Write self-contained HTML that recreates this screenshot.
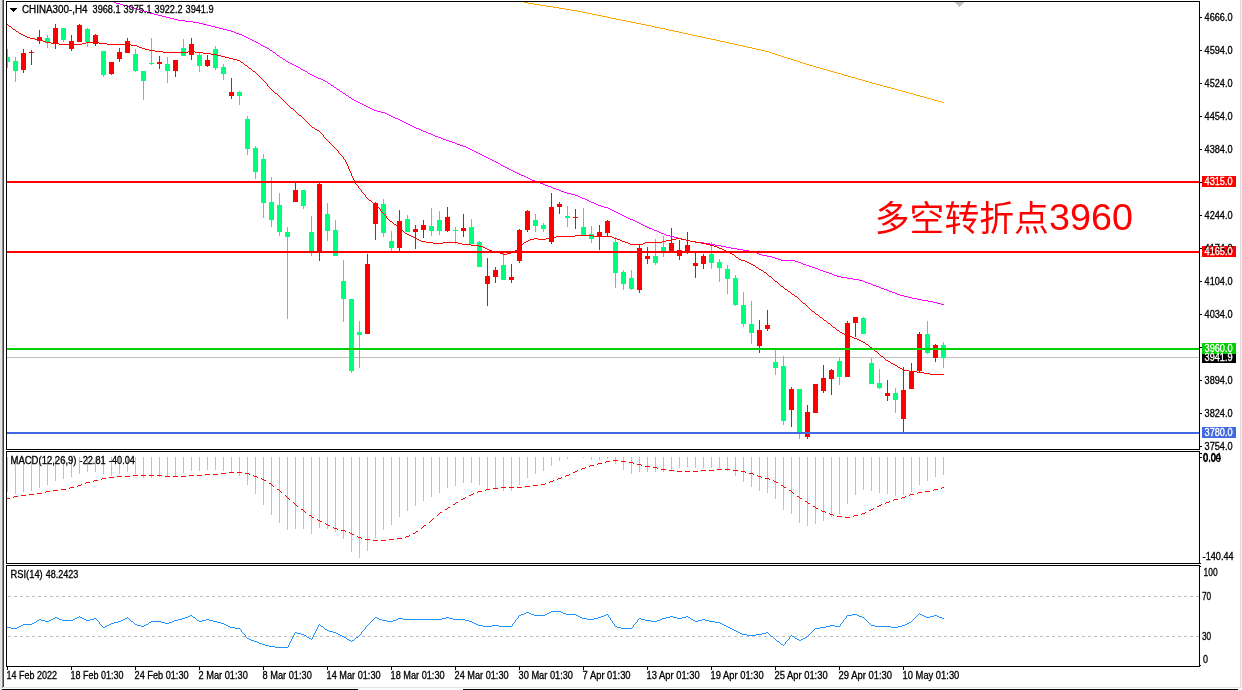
<!DOCTYPE html>
<html><head><meta charset="utf-8"><title>CHINA300-,H4</title>
<style>
html,body{margin:0;padding:0;background:#fff;}
body{width:1242px;height:690px;overflow:hidden;position:relative;font-family:"Liberation Sans","Noto Sans CJK SC",sans-serif;}
svg{position:absolute;left:0;top:0;display:block;}
svg text{font-family:"Liberation Sans","Noto Sans CJK SC",sans-serif;stroke-width:0.3px;}
#note{position:absolute;left:0;top:0;color:#ff0000;white-space:nowrap;font-family:"Liberation Sans","Noto Sans CJK SC",sans-serif;}
#note span{position:absolute;line-height:44px;height:44px;}
#note .cj{left:874.8px;top:196.8px;font-size:34.8px;}
#note .dg{left:1049px;top:195.2px;font-size:37.7px;}
</style></head><body>
<svg width="1242" height="690" viewBox="0 0 1242 690">
<g shape-rendering="crispEdges">
<rect x="0" y="0" width="2" height="690" fill="#e6e6e6"/>
<rect x="2" y="0" width="1" height="688" fill="#8c8c8c"/>
<rect x="3" y="0" width="1" height="687" fill="#404040"/>
<rect x="1240" y="0" width="1" height="688" fill="#dcdcdc"/>
<rect x="1241" y="0" width="1" height="688" fill="#f0f0f0"/>
<rect x="4" y="687" width="1237" height="1" fill="#e4e4e4"/>
<rect x="2" y="689" width="356" height="1" fill="#000"/>
<rect x="463" y="689" width="775" height="1" fill="#000"/>
<rect x="7" y="357" width="1192" height="1" fill="#c0c0c0"/>
<rect x="7" y="49" width="1" height="19" fill="#00ff7f"/>
<rect x="7" y="57" width="3" height="5" fill="#00ff7f"/>
<rect x="15" y="57" width="1" height="25" fill="#00ff7f"/>
<rect x="13" y="61" width="5" height="10" fill="#00ff7f"/>
<rect x="23" y="49" width="1" height="24" fill="#ff0000"/>
<rect x="21" y="53" width="5" height="17" fill="#ff0000"/>
<rect x="31" y="50" width="1" height="15" fill="#ff0000"/>
<rect x="29" y="52" width="5" height="1" fill="#ff0000"/>
<rect x="39" y="30" width="1" height="14" fill="#ff0000"/>
<rect x="37" y="37" width="5" height="4" fill="#ff0000"/>
<rect x="47" y="35" width="1" height="13" fill="#00ff7f"/>
<rect x="45" y="38" width="5" height="5" fill="#00ff7f"/>
<rect x="55" y="24" width="1" height="25" fill="#ff0000"/>
<rect x="53" y="28" width="5" height="16" fill="#ff0000"/>
<rect x="63" y="28" width="1" height="14" fill="#00ff7f"/>
<rect x="61" y="28" width="5" height="12" fill="#00ff7f"/>
<rect x="71" y="35" width="1" height="16" fill="#ff0000"/>
<rect x="69" y="41" width="5" height="8" fill="#ff0000"/>
<rect x="79" y="24" width="1" height="18" fill="#ff0000"/>
<rect x="77" y="25" width="5" height="17" fill="#ff0000"/>
<rect x="87" y="28" width="1" height="19" fill="#00ff7f"/>
<rect x="85" y="29" width="5" height="13" fill="#00ff7f"/>
<rect x="95" y="34" width="1" height="12" fill="#ff0000"/>
<rect x="93" y="35" width="5" height="9" fill="#ff0000"/>
<rect x="103" y="51" width="1" height="26" fill="#00ff7f"/>
<rect x="101" y="51" width="5" height="24" fill="#00ff7f"/>
<rect x="111" y="62" width="1" height="13" fill="#ff0000"/>
<rect x="109" y="62" width="5" height="12" fill="#ff0000"/>
<rect x="119" y="48" width="1" height="14" fill="#ff0000"/>
<rect x="117" y="52" width="5" height="7" fill="#ff0000"/>
<rect x="127" y="38" width="1" height="15" fill="#ff0000"/>
<rect x="125" y="41" width="5" height="12" fill="#ff0000"/>
<rect x="135" y="49" width="1" height="23" fill="#00ff7f"/>
<rect x="133" y="54" width="5" height="17" fill="#00ff7f"/>
<rect x="143" y="71" width="1" height="29" fill="#00ff7f"/>
<rect x="141" y="71" width="5" height="10" fill="#00ff7f"/>
<rect x="151" y="38" width="1" height="27" fill="#00ff7f"/>
<rect x="149" y="63" width="5" height="1" fill="#00ff7f"/>
<rect x="159" y="56" width="1" height="13" fill="#ff0000"/>
<rect x="157" y="62" width="5" height="2" fill="#ff0000"/>
<rect x="167" y="57" width="1" height="26" fill="#00ff7f"/>
<rect x="165" y="64" width="5" height="7" fill="#00ff7f"/>
<rect x="175" y="60" width="1" height="17" fill="#ff0000"/>
<rect x="173" y="60" width="5" height="11" fill="#ff0000"/>
<rect x="183" y="39" width="1" height="17" fill="#00ff7f"/>
<rect x="181" y="48" width="5" height="8" fill="#00ff7f"/>
<rect x="191" y="38" width="1" height="22" fill="#ff0000"/>
<rect x="189" y="44" width="5" height="11" fill="#ff0000"/>
<rect x="199" y="53" width="1" height="19" fill="#00ff7f"/>
<rect x="197" y="55" width="5" height="11" fill="#00ff7f"/>
<rect x="207" y="55" width="1" height="12" fill="#ff0000"/>
<rect x="205" y="60" width="5" height="6" fill="#ff0000"/>
<rect x="215" y="46" width="1" height="24" fill="#00ff7f"/>
<rect x="213" y="49" width="5" height="19" fill="#00ff7f"/>
<rect x="223" y="64" width="1" height="16" fill="#00ff7f"/>
<rect x="221" y="67" width="5" height="7" fill="#00ff7f"/>
<rect x="231" y="78" width="1" height="21" fill="#ff0000"/>
<rect x="229" y="92" width="5" height="4" fill="#ff0000"/>
<rect x="239" y="91" width="1" height="14" fill="#00ff7f"/>
<rect x="237" y="92" width="5" height="4" fill="#00ff7f"/>
<rect x="247" y="116" width="1" height="39" fill="#00ff7f"/>
<rect x="245" y="119" width="5" height="30" fill="#00ff7f"/>
<rect x="255" y="146" width="1" height="33" fill="#00ff7f"/>
<rect x="253" y="148" width="5" height="24" fill="#00ff7f"/>
<rect x="263" y="154" width="1" height="64" fill="#00ff7f"/>
<rect x="261" y="159" width="5" height="44" fill="#00ff7f"/>
<rect x="271" y="177" width="1" height="50" fill="#00ff7f"/>
<rect x="269" y="202" width="5" height="18" fill="#00ff7f"/>
<rect x="279" y="193" width="1" height="43" fill="#00ff7f"/>
<rect x="277" y="205" width="5" height="27" fill="#00ff7f"/>
<rect x="287" y="227" width="1" height="92" fill="#00ff7f"/>
<rect x="285" y="232" width="5" height="5" fill="#00ff7f"/>
<rect x="295" y="183" width="1" height="19" fill="#ff0000"/>
<rect x="293" y="190" width="5" height="12" fill="#ff0000"/>
<rect x="303" y="190" width="1" height="19" fill="#00ff7f"/>
<rect x="301" y="190" width="5" height="16" fill="#00ff7f"/>
<rect x="311" y="216" width="1" height="40" fill="#00ff7f"/>
<rect x="309" y="232" width="5" height="20" fill="#00ff7f"/>
<rect x="319" y="183" width="1" height="78" fill="#ff0000"/>
<rect x="317" y="184" width="5" height="69" fill="#ff0000"/>
<rect x="327" y="203" width="1" height="38" fill="#00ff7f"/>
<rect x="325" y="214" width="5" height="17" fill="#00ff7f"/>
<rect x="335" y="220" width="1" height="36" fill="#00ff7f"/>
<rect x="333" y="230" width="5" height="26" fill="#00ff7f"/>
<rect x="343" y="260" width="1" height="62" fill="#00ff7f"/>
<rect x="341" y="281" width="5" height="18" fill="#00ff7f"/>
<rect x="351" y="299" width="1" height="74" fill="#00ff7f"/>
<rect x="349" y="299" width="5" height="72" fill="#00ff7f"/>
<rect x="359" y="321" width="1" height="47" fill="#00ff7f"/>
<rect x="357" y="332" width="5" height="3" fill="#00ff7f"/>
<rect x="367" y="254" width="1" height="80" fill="#ff0000"/>
<rect x="365" y="264" width="5" height="70" fill="#ff0000"/>
<rect x="375" y="202" width="1" height="38" fill="#ff0000"/>
<rect x="373" y="203" width="5" height="21" fill="#ff0000"/>
<rect x="383" y="199" width="1" height="38" fill="#00ff7f"/>
<rect x="381" y="204" width="5" height="29" fill="#00ff7f"/>
<rect x="391" y="231" width="1" height="20" fill="#00ff7f"/>
<rect x="389" y="241" width="5" height="7" fill="#00ff7f"/>
<rect x="399" y="210" width="1" height="41" fill="#ff0000"/>
<rect x="397" y="221" width="5" height="27" fill="#ff0000"/>
<rect x="407" y="215" width="1" height="17" fill="#00ff7f"/>
<rect x="405" y="219" width="5" height="13" fill="#00ff7f"/>
<rect x="415" y="225" width="1" height="24" fill="#ff0000"/>
<rect x="413" y="229" width="5" height="3" fill="#ff0000"/>
<rect x="423" y="220" width="1" height="18" fill="#ff0000"/>
<rect x="421" y="225" width="5" height="5" fill="#ff0000"/>
<rect x="431" y="208" width="1" height="28" fill="#00ff7f"/>
<rect x="429" y="226" width="5" height="5" fill="#00ff7f"/>
<rect x="439" y="211" width="1" height="24" fill="#00ff7f"/>
<rect x="437" y="220" width="5" height="11" fill="#00ff7f"/>
<rect x="447" y="207" width="1" height="25" fill="#ff0000"/>
<rect x="445" y="217" width="5" height="14" fill="#ff0000"/>
<rect x="455" y="227" width="1" height="17" fill="#00ff7f"/>
<rect x="453" y="230" width="5" height="1" fill="#00ff7f"/>
<rect x="463" y="214" width="1" height="23" fill="#ff0000"/>
<rect x="461" y="228" width="5" height="3" fill="#ff0000"/>
<rect x="471" y="219" width="1" height="25" fill="#00ff7f"/>
<rect x="469" y="227" width="5" height="17" fill="#00ff7f"/>
<rect x="479" y="241" width="1" height="26" fill="#00ff7f"/>
<rect x="477" y="242" width="5" height="25" fill="#00ff7f"/>
<rect x="487" y="258" width="1" height="48" fill="#ff0000"/>
<rect x="485" y="276" width="5" height="8" fill="#ff0000"/>
<rect x="495" y="267" width="1" height="16" fill="#ff0000"/>
<rect x="493" y="270" width="5" height="7" fill="#ff0000"/>
<rect x="503" y="253" width="1" height="27" fill="#00ff7f"/>
<rect x="501" y="265" width="5" height="15" fill="#00ff7f"/>
<rect x="511" y="264" width="1" height="19" fill="#ff0000"/>
<rect x="509" y="277" width="5" height="3" fill="#ff0000"/>
<rect x="519" y="229" width="1" height="34" fill="#ff0000"/>
<rect x="517" y="230" width="5" height="31" fill="#ff0000"/>
<rect x="527" y="210" width="1" height="22" fill="#ff0000"/>
<rect x="525" y="211" width="5" height="19" fill="#ff0000"/>
<rect x="535" y="214" width="1" height="18" fill="#00ff7f"/>
<rect x="533" y="220" width="5" height="6" fill="#00ff7f"/>
<rect x="543" y="223" width="1" height="9" fill="#00ff7f"/>
<rect x="541" y="225" width="5" height="4" fill="#00ff7f"/>
<rect x="551" y="193" width="1" height="51" fill="#ff0000"/>
<rect x="549" y="207" width="5" height="35" fill="#ff0000"/>
<rect x="559" y="202" width="1" height="12" fill="#ff0000"/>
<rect x="557" y="204" width="5" height="3" fill="#ff0000"/>
<rect x="567" y="206" width="1" height="21" fill="#00ff7f"/>
<rect x="565" y="216" width="5" height="2" fill="#00ff7f"/>
<rect x="575" y="209" width="1" height="20" fill="#ff0000"/>
<rect x="573" y="217" width="5" height="1" fill="#ff0000"/>
<rect x="583" y="208" width="1" height="27" fill="#00ff7f"/>
<rect x="581" y="227" width="5" height="8" fill="#00ff7f"/>
<rect x="591" y="226" width="1" height="17" fill="#00ff7f"/>
<rect x="589" y="234" width="5" height="5" fill="#00ff7f"/>
<rect x="599" y="225" width="1" height="25" fill="#ff0000"/>
<rect x="597" y="232" width="5" height="5" fill="#ff0000"/>
<rect x="607" y="220" width="1" height="16" fill="#ff0000"/>
<rect x="605" y="221" width="5" height="12" fill="#ff0000"/>
<rect x="615" y="237" width="1" height="51" fill="#00ff7f"/>
<rect x="613" y="242" width="5" height="31" fill="#00ff7f"/>
<rect x="623" y="270" width="1" height="20" fill="#00ff7f"/>
<rect x="621" y="272" width="5" height="12" fill="#00ff7f"/>
<rect x="631" y="270" width="1" height="20" fill="#00ff7f"/>
<rect x="629" y="278" width="5" height="11" fill="#00ff7f"/>
<rect x="639" y="245" width="1" height="48" fill="#ff0000"/>
<rect x="637" y="248" width="5" height="42" fill="#ff0000"/>
<rect x="647" y="247" width="1" height="17" fill="#ff0000"/>
<rect x="645" y="256" width="5" height="3" fill="#ff0000"/>
<rect x="655" y="239" width="1" height="26" fill="#00ff7f"/>
<rect x="653" y="256" width="5" height="7" fill="#00ff7f"/>
<rect x="663" y="236" width="1" height="21" fill="#00ff7f"/>
<rect x="661" y="247" width="5" height="5" fill="#00ff7f"/>
<rect x="671" y="228" width="1" height="25" fill="#ff0000"/>
<rect x="669" y="243" width="5" height="9" fill="#ff0000"/>
<rect x="679" y="240" width="1" height="20" fill="#ff0000"/>
<rect x="677" y="250" width="5" height="6" fill="#ff0000"/>
<rect x="687" y="232" width="1" height="22" fill="#ff0000"/>
<rect x="685" y="245" width="5" height="8" fill="#ff0000"/>
<rect x="695" y="253" width="1" height="25" fill="#ff0000"/>
<rect x="693" y="263" width="5" height="3" fill="#ff0000"/>
<rect x="703" y="254" width="1" height="15" fill="#ff0000"/>
<rect x="701" y="256" width="5" height="8" fill="#ff0000"/>
<rect x="711" y="242" width="1" height="27" fill="#00ff7f"/>
<rect x="709" y="254" width="5" height="9" fill="#00ff7f"/>
<rect x="719" y="259" width="1" height="23" fill="#00ff7f"/>
<rect x="717" y="262" width="5" height="6" fill="#00ff7f"/>
<rect x="727" y="265" width="1" height="29" fill="#00ff7f"/>
<rect x="725" y="269" width="5" height="10" fill="#00ff7f"/>
<rect x="735" y="275" width="1" height="31" fill="#00ff7f"/>
<rect x="733" y="278" width="5" height="27" fill="#00ff7f"/>
<rect x="743" y="292" width="1" height="35" fill="#00ff7f"/>
<rect x="741" y="305" width="5" height="19" fill="#00ff7f"/>
<rect x="751" y="301" width="1" height="43" fill="#00ff7f"/>
<rect x="749" y="324" width="5" height="9" fill="#00ff7f"/>
<rect x="759" y="320" width="1" height="33" fill="#ff0000"/>
<rect x="757" y="330" width="5" height="16" fill="#ff0000"/>
<rect x="767" y="310" width="1" height="21" fill="#ff0000"/>
<rect x="765" y="325" width="5" height="4" fill="#ff0000"/>
<rect x="775" y="350" width="1" height="25" fill="#00ff7f"/>
<rect x="773" y="362" width="5" height="6" fill="#00ff7f"/>
<rect x="783" y="356" width="1" height="69" fill="#00ff7f"/>
<rect x="781" y="366" width="5" height="55" fill="#00ff7f"/>
<rect x="791" y="387" width="1" height="40" fill="#ff0000"/>
<rect x="789" y="389" width="5" height="21" fill="#ff0000"/>
<rect x="799" y="389" width="1" height="50" fill="#00ff7f"/>
<rect x="797" y="389" width="5" height="45" fill="#00ff7f"/>
<rect x="807" y="405" width="1" height="34" fill="#ff0000"/>
<rect x="805" y="412" width="5" height="25" fill="#ff0000"/>
<rect x="815" y="384" width="1" height="29" fill="#ff0000"/>
<rect x="813" y="384" width="5" height="29" fill="#ff0000"/>
<rect x="823" y="365" width="1" height="28" fill="#ff0000"/>
<rect x="821" y="378" width="5" height="13" fill="#ff0000"/>
<rect x="831" y="369" width="1" height="26" fill="#ff0000"/>
<rect x="829" y="370" width="5" height="9" fill="#ff0000"/>
<rect x="839" y="357" width="1" height="28" fill="#00ff7f"/>
<rect x="837" y="361" width="5" height="16" fill="#00ff7f"/>
<rect x="847" y="321" width="1" height="56" fill="#ff0000"/>
<rect x="845" y="323" width="5" height="54" fill="#ff0000"/>
<rect x="855" y="317" width="1" height="20" fill="#ff0000"/>
<rect x="853" y="317" width="5" height="6" fill="#ff0000"/>
<rect x="863" y="317" width="1" height="17" fill="#00ff7f"/>
<rect x="861" y="318" width="5" height="16" fill="#00ff7f"/>
<rect x="871" y="358" width="1" height="26" fill="#00ff7f"/>
<rect x="869" y="363" width="5" height="21" fill="#00ff7f"/>
<rect x="879" y="369" width="1" height="20" fill="#00ff7f"/>
<rect x="877" y="383" width="5" height="5" fill="#00ff7f"/>
<rect x="887" y="380" width="1" height="21" fill="#ff0000"/>
<rect x="885" y="393" width="5" height="3" fill="#ff0000"/>
<rect x="895" y="388" width="1" height="25" fill="#00ff7f"/>
<rect x="893" y="393" width="5" height="7" fill="#00ff7f"/>
<rect x="903" y="367" width="1" height="65" fill="#ff0000"/>
<rect x="901" y="390" width="5" height="29" fill="#ff0000"/>
<rect x="911" y="363" width="1" height="26" fill="#ff0000"/>
<rect x="909" y="371" width="5" height="18" fill="#ff0000"/>
<rect x="919" y="332" width="1" height="40" fill="#ff0000"/>
<rect x="917" y="334" width="5" height="37" fill="#ff0000"/>
<rect x="927" y="321" width="1" height="33" fill="#00ff7f"/>
<rect x="925" y="334" width="5" height="19" fill="#00ff7f"/>
<rect x="935" y="344" width="1" height="18" fill="#ff0000"/>
<rect x="933" y="345" width="5" height="13" fill="#ff0000"/>
<rect x="943" y="342" width="1" height="26" fill="#00ff7f"/>
<rect x="941" y="345" width="5" height="13" fill="#00ff7f"/>
<path d="M524 2h4v1h-4zM528 3h6v1h-6zM534 4h6v1h-6zM540 5h6v1h-6zM546 6h7v1h-7zM553 7h6v1h-6zM559 8h6v1h-6zM565 9h6v1h-6zM571 10h6v1h-6zM577 11h5v1h-5zM582 12h5v1h-5zM587 13h5v1h-5zM592 14h5v1h-5zM597 15h5v1h-5zM602 16h5v1h-5zM607 17h4v1h-4zM611 18h5v1h-5zM616 19h5v1h-5zM621 20h5v1h-5zM626 21h5v1h-5zM631 22h5v1h-5zM636 23h5v1h-5zM641 24h5v1h-5zM646 25h5v1h-5zM651 26h4v1h-4zM655 27h5v1h-5zM660 28h5v1h-5zM665 29h4v1h-4zM669 30h5v1h-5zM674 31h5v1h-5zM679 32h4v1h-4zM683 33h5v1h-5zM688 34h4v1h-4zM692 35h5v1h-5zM697 36h5v1h-5zM702 37h4v1h-4zM706 38h5v1h-5zM711 39h5v1h-5zM716 40h4v1h-4zM720 41h5v1h-5zM725 42h4v1h-4zM729 43h5v1h-5zM734 44h4v1h-4zM738 45h5v1h-5zM743 46h4v1h-4zM747 47h5v1h-5zM752 48h4v1h-4zM756 49h5v1h-5zM761 50h4v1h-4zM765 51h4v1h-4zM769 52h3v1h-3zM772 53h3v1h-3zM775 54h3v1h-3zM778 55h3v1h-3zM781 56h3v1h-3zM784 57h3v1h-3zM787 58h4v1h-4zM791 59h3v1h-3zM794 60h3v1h-3zM797 61h3v1h-3zM800 62h3v1h-3zM803 63h3v1h-3zM806 64h3v1h-3zM809 65h4v1h-4zM813 66h3v1h-3zM816 67h4v1h-4zM820 68h3v1h-3zM823 69h4v1h-4zM827 70h3v1h-3zM830 71h4v1h-4zM834 72h3v1h-3zM837 73h4v1h-4zM841 74h3v1h-3zM844 75h4v1h-4zM848 76h3v1h-3zM851 77h4v1h-4zM855 78h3v1h-3zM858 79h4v1h-4zM862 80h3v1h-3zM865 81h4v1h-4zM869 82h3v1h-3zM872 83h4v1h-4zM876 84h4v1h-4zM880 85h3v1h-3zM883 86h4v1h-4zM887 87h4v1h-4zM891 88h4v1h-4zM895 89h3v1h-3zM898 90h4v1h-4zM902 91h4v1h-4zM906 92h3v1h-3zM909 93h4v1h-4zM913 94h3v1h-3zM916 95h4v1h-4zM920 96h4v1h-4zM924 97h3v1h-3zM927 98h4v1h-4zM931 99h3v1h-3zM934 100h4v1h-4zM938 101h4v1h-4zM942 102h2v1h-2z" fill="#ffa500"/>
<path d="M114 2h2v1h-2zM116 3h4v1h-4zM120 4h3v1h-3zM123 5h4v1h-4zM127 6h4v1h-4zM131 7h3v1h-3zM134 8h3v1h-3zM137 9h3v1h-3zM140 10h4v1h-4zM144 11h3v1h-3zM147 12h3v1h-3zM150 13h4v1h-4zM154 14h4v1h-4zM158 15h4v1h-4zM162 16h4v1h-4zM166 17h4v1h-4zM170 18h4v1h-4zM174 19h4v1h-4zM178 20h7v1h-7zM185 21h8v1h-8zM193 22h6v1h-6zM199 23h4v1h-4zM203 24h4v1h-4zM207 25h4v1h-4zM211 26h4v1h-4zM215 27h4v1h-4zM219 28h4v1h-4zM223 29h4v1h-4zM227 30h4v1h-4zM231 31h3v1h-3zM234 32h2v1h-2zM236 33h3v1h-3zM239 34h3v1h-3zM242 35h2v1h-2zM244 36h2v1h-2zM246 37h2v1h-2zM248 38h2v1h-2zM250 39h2v1h-2zM252 40h2v1h-2zM254 41h2v1h-2zM256 42h2v1h-2zM258 43h2v1h-2zM261 45h2v1h-2zM263 46h2v1h-2zM265 47h2v1h-2zM267 48h2v1h-2zM270 50h2v1h-2zM273 52h2v1h-2zM277 55h2v1h-2zM280 57h2v1h-2zM283 59h2v1h-2zM286 61h2v1h-2zM288 62h2v1h-2zM290 63h2v1h-2zM292 64h2v1h-2zM294 65h2v1h-2zM296 66h2v1h-2zM298 67h2v1h-2zM301 69h2v1h-2zM303 70h2v1h-2zM305 71h2v1h-2zM308 73h2v1h-2zM310 74h2v1h-2zM312 75h2v1h-2zM314 76h2v1h-2zM316 77h2v1h-2zM318 78h3v1h-3zM321 79h2v1h-2zM323 80h2v1h-2zM325 81h2v1h-2zM328 83h2v1h-2zM331 85h2v1h-2zM334 87h2v1h-2zM337 89h2v1h-2zM340 91h2v1h-2zM343 93h2v1h-2zM346 95h2v1h-2zM349 97h2v1h-2zM352 99h2v1h-2zM354 100h2v1h-2zM356 101h2v1h-2zM358 102h2v1h-2zM360 103h2v1h-2zM362 104h2v1h-2zM364 105h2v1h-2zM366 106h2v1h-2zM368 107h2v1h-2zM370 108h2v1h-2zM372 109h2v1h-2zM374 110h3v1h-3zM377 111h4v1h-4zM381 112h4v1h-4zM385 113h2v1h-2zM387 114h2v1h-2zM389 115h2v1h-2zM391 116h2v1h-2zM393 117h2v1h-2zM395 118h3v1h-3zM398 119h2v1h-2zM400 120h2v1h-2zM402 121h2v1h-2zM404 122h2v1h-2zM406 123h2v1h-2zM408 124h2v1h-2zM410 125h2v1h-2zM412 126h2v1h-2zM414 127h2v1h-2zM416 128h3v1h-3zM419 129h2v1h-2zM421 130h2v1h-2zM423 131h3v1h-3zM426 132h2v1h-2zM428 133h3v1h-3zM431 134h2v1h-2zM433 135h2v1h-2zM435 136h3v1h-3zM438 137h3v1h-3zM441 138h2v1h-2zM443 139h3v1h-3zM446 140h3v1h-3zM449 141h3v1h-3zM452 142h3v1h-3zM455 143h2v1h-2zM457 144h3v1h-3zM460 145h3v1h-3zM463 146h3v1h-3zM466 147h2v1h-2zM468 148h2v1h-2zM470 149h2v1h-2zM472 150h2v1h-2zM474 151h2v1h-2zM476 152h2v1h-2zM478 153h2v1h-2zM480 154h2v1h-2zM482 155h2v1h-2zM484 156h2v1h-2zM486 157h2v1h-2zM488 158h2v1h-2zM490 159h2v1h-2zM492 160h2v1h-2zM494 161h2v1h-2zM496 162h2v1h-2zM498 163h2v1h-2zM501 165h2v1h-2zM503 166h2v1h-2zM505 167h2v1h-2zM507 168h2v1h-2zM509 169h2v1h-2zM511 170h2v1h-2zM513 171h2v1h-2zM515 172h2v1h-2zM517 173h2v1h-2zM519 174h2v1h-2zM521 175h3v1h-3zM524 176h2v1h-2zM526 177h2v1h-2zM528 178h2v1h-2zM530 179h2v1h-2zM532 180h3v1h-3zM535 181h2v1h-2zM537 182h3v1h-3zM540 183h3v1h-3zM543 184h2v1h-2zM545 185h3v1h-3zM548 186h3v1h-3zM551 187h2v1h-2zM553 188h3v1h-3zM556 189h3v1h-3zM559 190h2v1h-2zM561 191h3v1h-3zM564 192h3v1h-3zM567 193h4v1h-4zM571 194h4v1h-4zM575 195h3v1h-3zM578 196h2v1h-2zM580 197h2v1h-2zM582 198h3v1h-3zM585 199h2v1h-2zM587 200h2v1h-2zM589 201h2v1h-2zM591 202h3v1h-3zM594 203h2v1h-2zM596 204h2v1h-2zM598 205h3v1h-3zM601 206h3v1h-3zM604 207h4v1h-4zM608 208h2v1h-2zM610 209h2v1h-2zM612 210h2v1h-2zM614 211h2v1h-2zM616 212h2v1h-2zM618 213h2v1h-2zM620 214h2v1h-2zM622 215h2v1h-2zM624 216h2v1h-2zM626 217h2v1h-2zM628 218h2v1h-2zM630 219h3v1h-3zM633 220h2v1h-2zM635 221h2v1h-2zM637 222h2v1h-2zM639 223h2v1h-2zM641 224h2v1h-2zM643 225h2v1h-2zM645 226h2v1h-2zM647 227h2v1h-2zM649 228h3v1h-3zM652 229h2v1h-2zM654 230h3v1h-3zM657 231h2v1h-2zM659 232h2v1h-2zM661 233h3v1h-3zM664 234h2v1h-2zM666 235h4v1h-4zM670 236h4v1h-4zM674 237h4v1h-4zM678 238h4v1h-4zM682 239h4v1h-4zM686 240h4v1h-4zM690 241h6v1h-6zM696 242h8v1h-8zM704 243h6v1h-6zM710 244h5v1h-5zM715 245h6v1h-6zM721 246h5v1h-5zM726 247h5v1h-5zM731 248h6v1h-6zM737 249h6v1h-6zM743 250h6v1h-6zM749 251h4v1h-4zM753 252h4v1h-4zM757 253h2v1h-2zM759 254h3v1h-3zM762 255h5v1h-5zM767 256h5v1h-5zM772 257h3v1h-3zM775 258h3v1h-3zM778 259h3v1h-3zM781 260h14v1h-14zM795 261h3v1h-3zM798 262h3v1h-3zM801 263h2v1h-2zM803 264h3v1h-3zM806 265h3v1h-3zM809 266h3v1h-3zM812 267h3v1h-3zM815 268h3v1h-3zM818 269h2v1h-2zM820 270h3v1h-3zM823 271h3v1h-3zM826 272h3v1h-3zM829 273h3v1h-3zM832 274h2v1h-2zM834 275h3v1h-3zM837 276h4v1h-4zM841 277h6v1h-6zM847 278h6v1h-6zM853 279h6v1h-6zM859 280h4v1h-4zM863 281h2v1h-2zM865 282h3v1h-3zM868 283h3v1h-3zM871 284h2v1h-2zM873 285h3v1h-3zM876 286h3v1h-3zM879 287h2v1h-2zM881 288h3v1h-3zM884 289h3v1h-3zM887 290h2v1h-2zM889 291h3v1h-3zM892 292h3v1h-3zM895 293h2v1h-2zM897 294h3v1h-3zM900 295h4v1h-4zM904 296h4v1h-4zM908 297h4v1h-4zM912 298h5v1h-5zM917 299h5v1h-5zM922 300h6v1h-6zM928 301h5v1h-5zM933 302h4v1h-4zM937 303h4v1h-4zM941 304h3v1h-3zM260 44h1v1h-1zM269 49h1v1h-1zM272 51h1v1h-1zM275 53h1v1h-1zM276 54h1v1h-1zM279 56h1v1h-1zM282 58h1v1h-1zM285 60h1v1h-1zM300 68h1v1h-1zM307 72h1v1h-1zM327 82h1v1h-1zM330 84h1v1h-1zM333 86h1v1h-1zM336 88h1v1h-1zM339 90h1v1h-1zM342 92h1v1h-1zM345 94h1v1h-1zM348 96h1v1h-1zM351 98h1v1h-1zM500 164h1v1h-1z" fill="#ff00ff"/>
<path d="M9 26h2v1h-2zM13 29h2v1h-2zM16 31h2v1h-2zM19 33h2v1h-2zM21 34h2v1h-2zM23 35h2v1h-2zM25 36h2v1h-2zM27 37h3v1h-3zM30 38h5v1h-5zM35 39h6v1h-6zM41 40h2v1h-2zM43 41h3v1h-3zM46 42h5v1h-5zM86 42h13v1h-13zM51 43h8v1h-8zM82 43h4v1h-4zM99 43h8v1h-8zM59 44h23v1h-23zM107 44h24v1h-24zM131 45h6v1h-6zM137 46h2v1h-2zM139 47h3v1h-3zM142 48h3v1h-3zM145 49h4v1h-4zM149 50h6v1h-6zM155 51h8v1h-8zM188 51h7v1h-7zM163 52h25v1h-25zM195 52h8v1h-8zM203 53h8v1h-8zM211 54h6v1h-6zM217 55h4v1h-4zM221 56h4v1h-4zM225 57h4v1h-4zM229 58h4v1h-4zM233 59h4v1h-4zM237 60h3v1h-3zM241 62h2v1h-2zM245 65h2v1h-2zM249 68h2v1h-2zM253 71h2v1h-2zM275 93h2v1h-2zM291 108h2v1h-2zM299 115h2v1h-2zM312 127h2v1h-2zM315 129h2v1h-2zM317 130h2v1h-2zM369 200h2v1h-2zM374 204h2v1h-2zM390 221h2v1h-2zM394 224h2v1h-2zM400 229h2v1h-2zM405 233h2v1h-2zM407 234h2v1h-2zM409 235h2v1h-2zM575 235h18v1h-18zM411 236h2v1h-2zM556 236h19v1h-19zM593 236h19v1h-19zM413 237h2v1h-2zM552 237h4v1h-4zM612 237h2v1h-2zM415 238h2v1h-2zM534 238h4v1h-4zM546 238h6v1h-6zM614 238h3v1h-3zM676 238h5v1h-5zM417 239h2v1h-2zM530 239h4v1h-4zM538 239h8v1h-8zM617 239h3v1h-3zM671 239h5v1h-5zM681 239h5v1h-5zM419 240h2v1h-2zM528 240h2v1h-2zM620 240h2v1h-2zM666 240h5v1h-5zM686 240h4v1h-4zM421 241h5v1h-5zM526 241h2v1h-2zM622 241h3v1h-3zM662 241h4v1h-4zM690 241h5v1h-5zM426 242h7v1h-7zM443 242h15v1h-15zM524 242h2v1h-2zM625 242h3v1h-3zM645 242h17v1h-17zM695 242h6v1h-6zM433 243h10v1h-10zM458 243h4v1h-4zM628 243h2v1h-2zM643 243h2v1h-2zM701 243h5v1h-5zM462 244h9v1h-9zM630 244h13v1h-13zM706 244h4v1h-4zM471 245h8v1h-8zM710 245h4v1h-4zM479 246h4v1h-4zM714 246h3v1h-3zM483 247h2v1h-2zM717 247h2v1h-2zM485 248h2v1h-2zM719 248h3v1h-3zM487 249h2v1h-2zM722 249h2v1h-2zM489 250h3v1h-3zM515 250h2v1h-2zM724 250h2v1h-2zM492 251h4v1h-4zM513 251h2v1h-2zM726 251h2v1h-2zM496 252h4v1h-4zM511 252h2v1h-2zM728 252h2v1h-2zM500 253h3v1h-3zM507 253h4v1h-4zM730 253h2v1h-2zM503 254h4v1h-4zM732 254h2v1h-2zM736 257h2v1h-2zM739 259h2v1h-2zM741 260h4v1h-4zM745 261h2v1h-2zM747 262h2v1h-2zM749 263h2v1h-2zM751 264h2v1h-2zM753 265h2v1h-2zM756 267h2v1h-2zM759 269h2v1h-2zM761 270h2v1h-2zM764 272h2v1h-2zM769 276h2v1h-2zM775 281h2v1h-2zM781 286h2v1h-2zM785 289h2v1h-2zM788 291h2v1h-2zM792 294h2v1h-2zM795 296h2v1h-2zM803 303h2v1h-2zM812 311h2v1h-2zM816 314h2v1h-2zM820 317h2v1h-2zM824 320h2v1h-2zM828 323h2v1h-2zM833 327h2v1h-2zM837 330h2v1h-2zM840 332h2v1h-2zM842 333h2v1h-2zM844 334h3v1h-3zM847 335h2v1h-2zM849 336h3v1h-3zM852 337h2v1h-2zM854 338h3v1h-3zM857 339h2v1h-2zM859 340h2v1h-2zM861 341h2v1h-2zM863 342h2v1h-2zM866 344h2v1h-2zM870 347h2v1h-2zM875 351h2v1h-2zM881 356h2v1h-2zM886 360h2v1h-2zM888 361h2v1h-2zM891 363h2v1h-2zM893 364h2v1h-2zM895 365h2v1h-2zM898 367h2v1h-2zM900 368h2v1h-2zM902 369h2v1h-2zM904 370h5v1h-5zM909 371h8v1h-8zM917 372h7v1h-7zM924 373h6v1h-6zM930 374h14v1h-14zM7 24h1v1h-1zM8 25h1v1h-1zM11 27h1v1h-1zM12 28h1v1h-1zM15 30h1v1h-1zM18 32h1v1h-1zM240 61h1v1h-1zM243 63h1v1h-1zM244 64h1v1h-1zM247 66h1v1h-1zM248 67h1v1h-1zM251 69h1v1h-1zM252 70h1v1h-1zM255 72h1v1h-1zM256 73h1v1h-1zM257 74h1v1h-1zM258 75h1v1h-1zM259 76h1v1h-1zM260 77h1v1h-1zM261 78h1v1h-1zM262 79h1v1h-1zM263 80h1v1h-1zM264 81h1v1h-1zM265 82h1v1h-1zM266 83h1v1h-1zM267 84h1v2h-1zM268 86h1v1h-1zM269 87h1v1h-1zM270 88h1v1h-1zM271 89h1v1h-1zM272 90h1v1h-1zM273 91h1v1h-1zM274 92h1v1h-1zM277 94h1v1h-1zM278 95h1v1h-1zM279 96h1v1h-1zM280 97h1v1h-1zM281 98h1v1h-1zM282 99h1v1h-1zM283 100h1v1h-1zM284 101h1v1h-1zM285 102h1v1h-1zM286 103h1v1h-1zM287 104h1v1h-1zM288 105h1v1h-1zM289 106h1v1h-1zM290 107h1v1h-1zM293 109h1v1h-1zM294 110h1v1h-1zM295 111h1v1h-1zM296 112h1v1h-1zM297 113h1v1h-1zM298 114h1v1h-1zM301 116h1v1h-1zM302 117h1v1h-1zM303 118h1v1h-1zM304 119h1v1h-1zM305 120h1v1h-1zM306 121h1v1h-1zM307 122h1v1h-1zM308 123h1v1h-1zM309 124h1v1h-1zM310 125h1v1h-1zM311 126h1v1h-1zM314 128h1v1h-1zM319 131h1v1h-1zM320 132h1v1h-1zM321 133h1v1h-1zM322 134h1v1h-1zM323 135h1v2h-1zM324 137h1v1h-1zM325 138h1v1h-1zM326 139h1v1h-1zM327 140h1v1h-1zM328 141h1v1h-1zM329 142h1v1h-1zM330 143h1v1h-1zM331 144h1v1h-1zM332 145h1v1h-1zM333 146h1v1h-1zM334 147h1v1h-1zM335 148h1v1h-1zM336 149h1v1h-1zM337 150h1v1h-1zM338 151h1v2h-1zM339 153h1v1h-1zM340 154h1v1h-1zM341 155h1v1h-1zM342 156h1v1h-1zM343 157h1v2h-1zM344 159h1v1h-1zM345 160h1v2h-1zM346 162h1v2h-1zM347 164h1v2h-1zM348 166h1v3h-1zM349 169h1v2h-1zM350 171h1v2h-1zM351 173h1v3h-1zM352 176h1v2h-1zM353 178h1v2h-1zM354 180h1v2h-1zM355 182h1v2h-1zM356 184h1v1h-1zM357 185h1v1h-1zM358 186h1v2h-1zM359 188h1v1h-1zM360 189h1v1h-1zM361 190h1v2h-1zM362 192h1v1h-1zM363 193h1v1h-1zM364 194h1v1h-1zM365 195h1v2h-1zM366 197h1v1h-1zM367 198h1v1h-1zM368 199h1v1h-1zM371 201h1v1h-1zM372 202h1v1h-1zM373 203h1v1h-1zM376 205h1v1h-1zM377 206h1v1h-1zM378 207h1v1h-1zM379 208h1v1h-1zM380 209h1v2h-1zM381 211h1v1h-1zM382 212h1v1h-1zM383 213h1v1h-1zM384 214h1v1h-1zM385 215h1v1h-1zM386 216h1v2h-1zM387 218h1v1h-1zM388 219h1v1h-1zM389 220h1v1h-1zM392 222h1v1h-1zM393 223h1v1h-1zM396 225h1v1h-1zM397 226h1v1h-1zM398 227h1v1h-1zM399 228h1v1h-1zM402 230h1v1h-1zM403 231h1v1h-1zM404 232h1v1h-1zM523 243h1v1h-1zM522 244h1v1h-1zM521 245h1v1h-1zM520 246h1v1h-1zM519 247h1v1h-1zM518 248h1v1h-1zM517 249h1v1h-1zM734 255h1v1h-1zM735 256h1v1h-1zM738 258h1v1h-1zM755 266h1v1h-1zM758 268h1v1h-1zM763 271h1v1h-1zM766 273h1v1h-1zM767 274h1v1h-1zM768 275h1v1h-1zM771 277h1v1h-1zM772 278h1v1h-1zM773 279h1v1h-1zM774 280h1v1h-1zM777 282h1v1h-1zM778 283h1v1h-1zM779 284h1v1h-1zM780 285h1v1h-1zM783 287h1v1h-1zM784 288h1v1h-1zM787 290h1v1h-1zM790 292h1v1h-1zM791 293h1v1h-1zM794 295h1v1h-1zM797 297h1v1h-1zM798 298h1v1h-1zM799 299h1v1h-1zM800 300h1v1h-1zM801 301h1v1h-1zM802 302h1v1h-1zM805 304h1v1h-1zM806 305h1v1h-1zM807 306h1v1h-1zM808 307h1v1h-1zM809 308h1v1h-1zM810 309h1v1h-1zM811 310h1v1h-1zM814 312h1v1h-1zM815 313h1v1h-1zM818 315h1v1h-1zM819 316h1v1h-1zM822 318h1v1h-1zM823 319h1v1h-1zM826 321h1v1h-1zM827 322h1v1h-1zM830 324h1v1h-1zM831 325h1v1h-1zM832 326h1v1h-1zM835 328h1v1h-1zM836 329h1v1h-1zM839 331h1v1h-1zM865 343h1v1h-1zM868 345h1v1h-1zM869 346h1v1h-1zM872 348h1v1h-1zM873 349h1v1h-1zM874 350h1v1h-1zM877 352h1v1h-1zM878 353h1v1h-1zM879 354h1v1h-1zM880 355h1v1h-1zM883 357h1v1h-1zM884 358h1v1h-1zM885 359h1v1h-1zM890 362h1v1h-1zM897 366h1v1h-1z" fill="#ff0000"/>
<rect x="7" y="181" width="1192" height="2" fill="#ff0000"/>
<rect x="7" y="251" width="1192" height="2" fill="#ff0000"/>
<rect x="7" y="348" width="1192" height="2" fill="#00d000"/>
<rect x="7" y="432" width="1192" height="2" fill="#4169e1"/>
<polygon points="955,2 964,2 959.5,7" fill="#c0c0c0"/>
<polygon points="10,8 17,8 13.5,12" fill="#000"/>
<rect x="7" y="457" width="1" height="35" fill="#c0c0c0"/>
<rect x="15" y="457" width="1" height="37" fill="#c0c0c0"/>
<rect x="23" y="457" width="1" height="35" fill="#c0c0c0"/>
<rect x="31" y="457" width="1" height="34" fill="#c0c0c0"/>
<rect x="39" y="457" width="1" height="31" fill="#c0c0c0"/>
<rect x="47" y="457" width="1" height="28" fill="#c0c0c0"/>
<rect x="55" y="457" width="1" height="24" fill="#c0c0c0"/>
<rect x="63" y="457" width="1" height="22" fill="#c0c0c0"/>
<rect x="71" y="457" width="1" height="20" fill="#c0c0c0"/>
<rect x="79" y="457" width="1" height="17" fill="#c0c0c0"/>
<rect x="87" y="457" width="1" height="15" fill="#c0c0c0"/>
<rect x="95" y="457" width="1" height="15" fill="#c0c0c0"/>
<rect x="103" y="457" width="1" height="17" fill="#c0c0c0"/>
<rect x="111" y="457" width="1" height="19" fill="#c0c0c0"/>
<rect x="119" y="457" width="1" height="17" fill="#c0c0c0"/>
<rect x="127" y="457" width="1" height="15" fill="#c0c0c0"/>
<rect x="135" y="457" width="1" height="17" fill="#c0c0c0"/>
<rect x="143" y="457" width="1" height="21" fill="#c0c0c0"/>
<rect x="151" y="457" width="1" height="21" fill="#c0c0c0"/>
<rect x="159" y="457" width="1" height="20" fill="#c0c0c0"/>
<rect x="167" y="457" width="1" height="20" fill="#c0c0c0"/>
<rect x="175" y="457" width="1" height="19" fill="#c0c0c0"/>
<rect x="183" y="457" width="1" height="16" fill="#c0c0c0"/>
<rect x="191" y="457" width="1" height="14" fill="#c0c0c0"/>
<rect x="199" y="457" width="1" height="14" fill="#c0c0c0"/>
<rect x="207" y="457" width="1" height="13" fill="#c0c0c0"/>
<rect x="215" y="457" width="1" height="13" fill="#c0c0c0"/>
<rect x="223" y="457" width="1" height="14" fill="#c0c0c0"/>
<rect x="231" y="457" width="1" height="16" fill="#c0c0c0"/>
<rect x="239" y="457" width="1" height="19" fill="#c0c0c0"/>
<rect x="247" y="457" width="1" height="28" fill="#c0c0c0"/>
<rect x="255" y="457" width="1" height="37" fill="#c0c0c0"/>
<rect x="263" y="457" width="1" height="48" fill="#c0c0c0"/>
<rect x="271" y="457" width="1" height="58" fill="#c0c0c0"/>
<rect x="279" y="457" width="1" height="66" fill="#c0c0c0"/>
<rect x="287" y="457" width="1" height="73" fill="#c0c0c0"/>
<rect x="295" y="457" width="1" height="72" fill="#c0c0c0"/>
<rect x="303" y="457" width="1" height="72" fill="#c0c0c0"/>
<rect x="311" y="457" width="1" height="77" fill="#c0c0c0"/>
<rect x="319" y="457" width="1" height="71" fill="#c0c0c0"/>
<rect x="327" y="457" width="1" height="72" fill="#c0c0c0"/>
<rect x="335" y="457" width="1" height="75" fill="#c0c0c0"/>
<rect x="343" y="457" width="1" height="82" fill="#c0c0c0"/>
<rect x="351" y="457" width="1" height="95" fill="#c0c0c0"/>
<rect x="359" y="457" width="1" height="101" fill="#c0c0c0"/>
<rect x="367" y="457" width="1" height="94" fill="#c0c0c0"/>
<rect x="375" y="457" width="1" height="81" fill="#c0c0c0"/>
<rect x="383" y="457" width="1" height="73" fill="#c0c0c0"/>
<rect x="391" y="457" width="1" height="68" fill="#c0c0c0"/>
<rect x="399" y="457" width="1" height="60" fill="#c0c0c0"/>
<rect x="407" y="457" width="1" height="54" fill="#c0c0c0"/>
<rect x="415" y="457" width="1" height="49" fill="#c0c0c0"/>
<rect x="423" y="457" width="1" height="44" fill="#c0c0c0"/>
<rect x="431" y="457" width="1" height="40" fill="#c0c0c0"/>
<rect x="439" y="457" width="1" height="36" fill="#c0c0c0"/>
<rect x="447" y="457" width="1" height="31" fill="#c0c0c0"/>
<rect x="455" y="457" width="1" height="29" fill="#c0c0c0"/>
<rect x="463" y="457" width="1" height="26" fill="#c0c0c0"/>
<rect x="471" y="457" width="1" height="26" fill="#c0c0c0"/>
<rect x="479" y="457" width="1" height="28" fill="#c0c0c0"/>
<rect x="487" y="457" width="1" height="32" fill="#c0c0c0"/>
<rect x="495" y="457" width="1" height="32" fill="#c0c0c0"/>
<rect x="503" y="457" width="1" height="34" fill="#c0c0c0"/>
<rect x="511" y="457" width="1" height="34" fill="#c0c0c0"/>
<rect x="519" y="457" width="1" height="28" fill="#c0c0c0"/>
<rect x="527" y="457" width="1" height="21" fill="#c0c0c0"/>
<rect x="535" y="457" width="1" height="17" fill="#c0c0c0"/>
<rect x="543" y="457" width="1" height="14" fill="#c0c0c0"/>
<rect x="551" y="457" width="1" height="9" fill="#c0c0c0"/>
<rect x="559" y="457" width="1" height="4" fill="#c0c0c0"/>
<rect x="567" y="457" width="1" height="2" fill="#c0c0c0"/>
<rect x="583" y="457" width="1" height="1" fill="#c0c0c0"/>
<rect x="591" y="457" width="1" height="3" fill="#c0c0c0"/>
<rect x="599" y="457" width="1" height="3" fill="#c0c0c0"/>
<rect x="607" y="457" width="1" height="2" fill="#c0c0c0"/>
<rect x="615" y="457" width="1" height="7" fill="#c0c0c0"/>
<rect x="623" y="457" width="1" height="13" fill="#c0c0c0"/>
<rect x="631" y="457" width="1" height="17" fill="#c0c0c0"/>
<rect x="639" y="457" width="1" height="15" fill="#c0c0c0"/>
<rect x="647" y="457" width="1" height="15" fill="#c0c0c0"/>
<rect x="655" y="457" width="1" height="15" fill="#c0c0c0"/>
<rect x="663" y="457" width="1" height="15" fill="#c0c0c0"/>
<rect x="671" y="457" width="1" height="13" fill="#c0c0c0"/>
<rect x="679" y="457" width="1" height="11" fill="#c0c0c0"/>
<rect x="687" y="457" width="1" height="10" fill="#c0c0c0"/>
<rect x="695" y="457" width="1" height="11" fill="#c0c0c0"/>
<rect x="703" y="457" width="1" height="11" fill="#c0c0c0"/>
<rect x="711" y="457" width="1" height="11" fill="#c0c0c0"/>
<rect x="719" y="457" width="1" height="11" fill="#c0c0c0"/>
<rect x="727" y="457" width="1" height="14" fill="#c0c0c0"/>
<rect x="735" y="457" width="1" height="19" fill="#c0c0c0"/>
<rect x="743" y="457" width="1" height="25" fill="#c0c0c0"/>
<rect x="751" y="457" width="1" height="30" fill="#c0c0c0"/>
<rect x="759" y="457" width="1" height="34" fill="#c0c0c0"/>
<rect x="767" y="457" width="1" height="36" fill="#c0c0c0"/>
<rect x="775" y="457" width="1" height="42" fill="#c0c0c0"/>
<rect x="783" y="457" width="1" height="53" fill="#c0c0c0"/>
<rect x="791" y="457" width="1" height="57" fill="#c0c0c0"/>
<rect x="799" y="457" width="1" height="66" fill="#c0c0c0"/>
<rect x="807" y="457" width="1" height="69" fill="#c0c0c0"/>
<rect x="815" y="457" width="1" height="67" fill="#c0c0c0"/>
<rect x="823" y="457" width="1" height="64" fill="#c0c0c0"/>
<rect x="831" y="457" width="1" height="60" fill="#c0c0c0"/>
<rect x="839" y="457" width="1" height="57" fill="#c0c0c0"/>
<rect x="847" y="457" width="1" height="47" fill="#c0c0c0"/>
<rect x="855" y="457" width="1" height="38" fill="#c0c0c0"/>
<rect x="863" y="457" width="1" height="33" fill="#c0c0c0"/>
<rect x="871" y="457" width="1" height="34" fill="#c0c0c0"/>
<rect x="879" y="457" width="1" height="36" fill="#c0c0c0"/>
<rect x="887" y="457" width="1" height="37" fill="#c0c0c0"/>
<rect x="895" y="457" width="1" height="39" fill="#c0c0c0"/>
<rect x="903" y="457" width="1" height="38" fill="#c0c0c0"/>
<rect x="911" y="457" width="1" height="35" fill="#c0c0c0"/>
<rect x="919" y="457" width="1" height="28" fill="#c0c0c0"/>
<rect x="927" y="457" width="1" height="24" fill="#c0c0c0"/>
<rect x="935" y="457" width="1" height="20" fill="#c0c0c0"/>
<rect x="943" y="457" width="1" height="18" fill="#c0c0c0"/>
<path d="M7 498h3v1h-3zM463 498h2v1h-2zM800 498h2v1h-2zM902 497h3v1h-3zM14 496h4v1h-4zM797 496h2v1h-2zM21 495h5v1h-5zM469 495h2v1h-2zM29 494h5v1h-5zM471 494h2v1h-2zM910 494h4v1h-4zM37 493h5v1h-5zM918 492h4v1h-4zM46 491h4v1h-4zM478 491h4v1h-4zM925 491h5v1h-5zM53 490h5v1h-5zM789 490h2v1h-2zM61 489h5v1h-5zM277 489h2v1h-2zM486 489h4v1h-4zM934 489h4v1h-4zM493 488h5v1h-5zM70 487h4v1h-4zM501 487h5v1h-5zM509 487h5v1h-5zM517 487h5v1h-5zM784 487h2v1h-2zM942 487h2v1h-2zM525 486h5v1h-5zM78 485h3v1h-3zM533 485h5v1h-5zM781 485h2v1h-2zM541 484h4v1h-4zM269 483h2v1h-2zM86 482h4v1h-4zM776 482h2v1h-2zM550 481h3v1h-3zM774 481h2v1h-2zM94 480h4v1h-4zM264 480h2v1h-2zM262 479h2v1h-2zM102 478h4v1h-4zM558 478h3v1h-3zM765 478h4v1h-4zM109 477h5v1h-5zM117 476h5v1h-5zM125 476h5v1h-5zM165 476h5v1h-5zM173 476h5v1h-5zM181 476h5v1h-5zM254 476h3v1h-3zM758 476h3v1h-3zM133 475h5v1h-5zM141 475h5v1h-5zM149 475h5v1h-5zM157 475h5v1h-5zM189 475h5v1h-5zM197 475h5v1h-5zM566 475h3v1h-3zM205 474h5v1h-5zM213 474h5v1h-5zM221 473h5v1h-5zM245 473h4v1h-4zM749 473h4v1h-4zM229 472h5v1h-5zM237 472h5v1h-5zM573 472h2v1h-2zM461 499h2v1h-2zM894 499h4v1h-4zM456 502h2v1h-2zM886 502h3v1h-3zM808 503h2v1h-2zM453 504h2v1h-2zM879 505h2v1h-2zM813 506h2v1h-2zM877 506h2v1h-2zM301 509h2v1h-2zM445 509h2v1h-2zM871 509h2v1h-2zM869 510h2v1h-2zM822 511h3v1h-3zM440 512h2v1h-2zM309 515h2v1h-2zM854 515h4v1h-4zM837 516h5v1h-5zM312 517h2v1h-2zM845 517h5v1h-5zM318 520h2v1h-2zM320 521h2v1h-2zM326 524h2v1h-2zM328 525h2v1h-2zM424 525h2v1h-2zM334 528h3v1h-3zM341 530h4v1h-4zM416 531h2v1h-2zM350 533h2v1h-2zM413 533h2v1h-2zM352 534h2v1h-2zM406 536h3v1h-3zM358 537h3v1h-3zM397 538h5v1h-5zM365 539h5v1h-5zM389 539h5v1h-5zM373 540h5v1h-5zM381 540h5v1h-5zM830 514h3v1h-3zM862 513h3v1h-3zM816 508h2v1h-2zM448 507h2v1h-2zM575 471h2v1h-2zM677 471h5v1h-5zM685 471h5v1h-5zM693 471h5v1h-5zM741 471h4v1h-4zM669 470h5v1h-5zM701 470h5v1h-5zM709 470h5v1h-5zM733 470h5v1h-5zM661 469h5v1h-5zM717 469h5v1h-5zM725 469h5v1h-5zM582 468h3v1h-3zM653 467h4v1h-4zM645 466h5v1h-5zM590 465h4v1h-4zM637 464h4v1h-4zM598 463h4v1h-4zM629 462h4v1h-4zM606 461h4v1h-4zM621 461h5v1h-5zM613 460h5v1h-5zM805 501h2v1h-2zM288 498h1v1h-1zM901 498h1v1h-1zM13 497h1v1h-1zM287 497h1v1h-1zM465 497h1v1h-1zM799 497h1v1h-1zM286 496h1v1h-1zM905 496h1v1h-1zM285 495h1v1h-1zM909 495h1v1h-1zM473 493h1v1h-1zM793 493h1v1h-1zM917 493h1v1h-1zM45 492h1v1h-1zM281 492h1v1h-1zM477 492h1v1h-1zM792 492h1v1h-1zM280 491h1v1h-1zM791 491h1v1h-1zM279 490h1v1h-1zM485 490h1v1h-1zM933 490h1v1h-1zM69 488h1v1h-1zM941 488h1v1h-1zM77 486h1v1h-1zM273 486h1v1h-1zM783 486h1v1h-1zM272 485h1v1h-1zM81 484h1v1h-1zM271 484h1v1h-1zM85 483h1v1h-1zM545 483h1v1h-1zM549 482h1v1h-1zM93 481h1v1h-1zM553 480h1v1h-1zM773 480h1v1h-1zM101 479h1v1h-1zM557 479h1v1h-1zM769 479h1v1h-1zM261 478h1v1h-1zM257 477h1v1h-1zM561 477h1v1h-1zM761 477h1v1h-1zM565 476h1v1h-1zM253 475h1v1h-1zM757 475h1v1h-1zM249 474h1v1h-1zM569 474h1v1h-1zM753 474h1v1h-1zM745 472h1v1h-1zM289 499h1v1h-1zM293 502h1v1h-1zM807 502h1v1h-1zM294 503h1v1h-1zM455 503h1v1h-1zM885 503h1v1h-1zM295 504h1v1h-1zM881 504h1v1h-1zM296 505h1v1h-1zM297 506h1v1h-1zM303 510h1v1h-1zM821 510h1v1h-1zM304 511h1v1h-1zM305 512h1v1h-1zM825 512h1v1h-1zM865 512h1v1h-1zM437 515h1v1h-1zM833 515h1v1h-1zM311 516h1v1h-1zM853 516h1v1h-1zM317 519h1v1h-1zM432 519h1v1h-1zM431 520h1v1h-1zM430 521h1v1h-1zM325 523h1v1h-1zM333 527h1v1h-1zM422 527h1v1h-1zM421 528h1v1h-1zM337 529h1v1h-1zM345 531h1v1h-1zM349 532h1v1h-1zM415 532h1v1h-1zM357 536h1v1h-1zM405 537h1v1h-1zM361 538h1v1h-1zM409 535h1v1h-1zM423 526h1v1h-1zM429 522h1v1h-1zM433 518h1v1h-1zM438 514h1v1h-1zM861 514h1v1h-1zM439 513h1v1h-1zM829 513h1v1h-1zM447 508h1v1h-1zM873 508h1v1h-1zM815 507h1v1h-1zM577 470h1v1h-1zM581 469h1v1h-1zM657 468h1v1h-1zM585 467h1v1h-1zM589 466h1v1h-1zM641 465h1v1h-1zM597 464h1v1h-1zM633 463h1v1h-1zM605 462h1v1h-1zM889 501h1v1h-1zM893 500h1v1h-1z" fill="#ff0000"/>
<line x1="8" y1="596.5" x2="1199" y2="596.5" stroke="#c0c0c0" stroke-width="1" stroke-dasharray="3 3"/>
<line x1="8" y1="636.5" x2="1199" y2="636.5" stroke="#c0c0c0" stroke-width="1" stroke-dasharray="3 3"/>
<path d="M7 627h4v1h-4zM17 627h2v1h-2zM103 627h2v1h-2zM230 627h5v1h-5zM617 627h4v1h-4zM728 627h2v1h-2zM820 627h6v1h-6zM891 627h7v1h-7zM11 628h6v1h-6zM235 628h5v1h-5zM621 628h11v1h-11zM730 628h2v1h-2zM815 628h5v1h-5zM19 626h2v1h-2zM105 626h2v1h-2zM141 626h3v1h-3zM228 626h2v1h-2zM321 626h2v1h-2zM483 626h9v1h-9zM499 626h13v1h-13zM615 626h2v1h-2zM726 626h2v1h-2zM826 626h4v1h-4zM835 626h5v1h-5zM875 626h16v1h-16zM898 626h4v1h-4zM21 625h2v1h-2zM107 625h2v1h-2zM137 625h4v1h-4zM144 625h2v1h-2zM226 625h2v1h-2zM478 625h5v1h-5zM492 625h7v1h-7zM724 625h2v1h-2zM830 625h5v1h-5zM871 625h4v1h-4zM902 625h3v1h-3zM23 624h9v1h-9zM109 624h2v1h-2zM135 624h2v1h-2zM146 624h2v1h-2zM224 624h2v1h-2zM476 624h2v1h-2zM722 624h2v1h-2zM905 624h2v1h-2zM32 623h2v1h-2zM111 623h3v1h-3zM165 623h4v1h-4zM221 623h3v1h-3zM474 623h2v1h-2zM720 623h2v1h-2zM907 623h2v1h-2zM34 622h2v1h-2zM114 622h4v1h-4zM149 622h2v1h-2zM161 622h4v1h-4zM169 622h3v1h-3zM217 622h4v1h-4zM472 622h2v1h-2zM715 622h5v1h-5zM909 622h2v1h-2zM45 621h4v1h-4zM118 621h3v1h-3zM131 621h2v1h-2zM151 621h10v1h-10zM172 621h2v1h-2zM199 621h3v1h-3zM213 621h4v1h-4zM387 621h6v1h-6zM469 621h3v1h-3zM651 621h6v1h-6zM695 621h3v1h-3zM709 621h6v1h-6zM37 620h2v1h-2zM41 620h4v1h-4zM49 620h2v1h-2zM62 620h11v1h-11zM86 620h4v1h-4zM121 620h2v1h-2zM174 620h4v1h-4zM197 620h2v1h-2zM202 620h4v1h-4zM209 620h4v1h-4zM382 620h5v1h-5zM393 620h3v1h-3zM465 620h4v1h-4zM645 620h6v1h-6zM657 620h3v1h-3zM693 620h2v1h-2zM698 620h4v1h-4zM705 620h4v1h-4zM39 619h2v1h-2zM51 619h2v1h-2zM59 619h3v1h-3zM73 619h2v1h-2zM84 619h2v1h-2zM90 619h4v1h-4zM123 619h2v1h-2zM178 619h4v1h-4zM206 619h3v1h-3zM379 619h3v1h-3zM396 619h2v1h-2zM403 619h39v1h-39zM453 619h12v1h-12zM587 619h7v1h-7zM641 619h4v1h-4zM660 619h2v1h-2zM691 619h2v1h-2zM702 619h3v1h-3zM53 618h2v1h-2zM57 618h2v1h-2zM75 618h2v1h-2zM82 618h2v1h-2zM94 618h2v1h-2zM125 618h2v1h-2zM182 618h3v1h-3zM377 618h2v1h-2zM398 618h5v1h-5zM442 618h4v1h-4zM449 618h4v1h-4zM582 618h5v1h-5zM594 618h4v1h-4zM639 618h2v1h-2zM662 618h4v1h-4zM677 618h5v1h-5zM942 618h2v1h-2zM55 617h2v1h-2zM77 617h2v1h-2zM80 617h2v1h-2zM185 617h3v1h-3zM193 617h2v1h-2zM375 617h2v1h-2zM446 617h3v1h-3zM580 617h2v1h-2zM598 617h3v1h-3zM666 617h4v1h-4zM673 617h4v1h-4zM682 617h4v1h-4zM688 617h2v1h-2zM862 617h2v1h-2zM926 617h4v1h-4zM939 617h3v1h-3zM188 616h2v1h-2zM578 616h2v1h-2zM601 616h3v1h-3zM670 616h3v1h-3zM686 616h2v1h-2zM859 616h3v1h-3zM924 616h2v1h-2zM930 616h4v1h-4zM937 616h2v1h-2zM190 615h2v1h-2zM519 615h2v1h-2zM534 615h11v1h-11zM576 615h2v1h-2zM604 615h2v1h-2zM847 615h5v1h-5zM857 615h2v1h-2zM922 615h2v1h-2zM934 615h3v1h-3zM325 629h2v1h-2zM732 629h2v1h-2zM327 630h2v1h-2zM734 630h2v1h-2zM329 631h4v1h-4zM736 631h2v1h-2zM295 632h2v1h-2zM333 632h3v1h-3zM738 632h2v1h-2zM766 632h2v1h-2zM297 633h4v1h-4zM336 633h2v1h-2zM740 633h2v1h-2zM762 633h4v1h-4zM301 634h3v1h-3zM338 634h2v1h-2zM742 634h5v1h-5zM756 634h6v1h-6zM304 635h2v1h-2zM340 635h2v1h-2zM747 635h9v1h-9zM342 636h2v1h-2zM771 636h2v1h-2zM792 636h2v1h-2zM307 637h2v1h-2zM344 637h2v1h-2zM356 637h2v1h-2zM805 637h2v1h-2zM247 638h2v1h-2zM309 638h2v1h-2zM795 638h2v1h-2zM803 638h2v1h-2zM249 639h2v1h-2zM347 639h2v1h-2zM797 639h2v1h-2zM801 639h2v1h-2zM251 640h3v1h-3zM349 640h2v1h-2zM352 640h2v1h-2zM799 640h2v1h-2zM254 641h3v1h-3zM777 641h2v1h-2zM257 642h2v1h-2zM259 643h3v1h-3zM262 644h3v1h-3zM781 644h2v1h-2zM265 645h4v1h-4zM269 646h6v1h-6zM275 647h13v1h-13zM521 614h3v1h-3zM531 614h3v1h-3zM545 614h2v1h-2zM566 614h10v1h-10zM606 614h2v1h-2zM852 614h5v1h-5zM920 614h2v1h-2zM524 613h2v1h-2zM529 613h2v1h-2zM547 613h2v1h-2zM563 613h3v1h-3zM526 612h3v1h-3zM549 612h2v1h-2zM561 612h2v1h-2zM551 611h10v1h-10zM317 627h1v2h-1zM323 627h1v1h-1zM365 627h1v2h-1zM632 627h1v1h-1zM324 628h1v1h-1zM102 626h1v1h-1zM318 625h1v2h-1zM366 626h1v1h-1zM633 625h1v2h-1zM101 625h1v1h-1zM320 625h1v1h-1zM367 625h1v1h-1zM512 624h1v2h-1zM614 624h1v2h-1zM840 624h1v2h-1zM100 624h1v1h-1zM319 624h1v1h-1zM368 624h1v1h-1zM634 624h1v1h-1zM870 624h1v1h-1zM99 622h1v2h-1zM134 623h1v1h-1zM148 623h1v1h-1zM369 623h1v1h-1zM513 623h1v1h-1zM613 623h1v1h-1zM635 623h1v1h-1zM841 623h1v1h-1zM869 623h1v1h-1zM133 622h1v1h-1zM370 622h1v1h-1zM514 622h1v1h-1zM612 621h1v2h-1zM636 622h1v1h-1zM842 622h1v1h-1zM868 622h1v1h-1zM36 621h1v1h-1zM98 621h1v1h-1zM371 621h1v1h-1zM515 620h1v2h-1zM637 620h1v2h-1zM843 620h1v2h-1zM867 621h1v1h-1zM911 621h1v1h-1zM97 620h1v1h-1zM130 620h1v1h-1zM372 620h1v1h-1zM611 620h1v1h-1zM866 620h1v1h-1zM912 620h1v1h-1zM96 619h1v1h-1zM129 619h1v1h-1zM196 619h1v1h-1zM373 619h1v1h-1zM516 619h1v1h-1zM610 618h1v2h-1zM638 619h1v1h-1zM844 619h1v1h-1zM865 619h1v1h-1zM913 619h1v1h-1zM128 618h1v1h-1zM195 618h1v1h-1zM374 618h1v1h-1zM517 618h1v1h-1zM690 618h1v1h-1zM845 618h1v1h-1zM864 618h1v1h-1zM914 618h1v1h-1zM127 617h1v1h-1zM518 616h1v2h-1zM609 617h1v1h-1zM846 616h1v2h-1zM915 617h1v1h-1zM79 616h1v1h-1zM192 616h1v1h-1zM608 615h1v2h-1zM916 616h1v1h-1zM917 615h1v1h-1zM240 629h1v1h-1zM316 629h1v2h-1zM364 629h1v1h-1zM814 629h1v1h-1zM241 630h1v2h-1zM363 630h1v1h-1zM813 630h1v1h-1zM315 631h1v2h-1zM362 631h1v1h-1zM812 631h1v1h-1zM242 632h1v1h-1zM361 632h1v2h-1zM811 632h1v1h-1zM243 633h1v1h-1zM294 633h1v2h-1zM314 633h1v2h-1zM768 633h1v1h-1zM810 633h1v1h-1zM244 634h1v1h-1zM360 634h1v1h-1zM769 634h1v1h-1zM809 634h1v1h-1zM245 635h1v2h-1zM293 635h1v2h-1zM313 635h1v2h-1zM359 635h1v1h-1zM770 635h1v1h-1zM791 635h1v1h-1zM808 635h1v1h-1zM306 636h1v1h-1zM358 636h1v1h-1zM790 636h1v1h-1zM807 636h1v1h-1zM246 637h1v1h-1zM292 637h1v2h-1zM312 637h1v2h-1zM773 637h1v1h-1zM789 637h1v2h-1zM794 637h1v1h-1zM346 638h1v1h-1zM355 638h1v1h-1zM774 638h1v1h-1zM291 639h1v2h-1zM311 639h1v1h-1zM354 639h1v1h-1zM775 639h1v1h-1zM788 639h1v1h-1zM776 640h1v1h-1zM787 640h1v1h-1zM290 641h1v2h-1zM351 641h1v1h-1zM786 641h1v1h-1zM779 642h1v1h-1zM785 642h1v2h-1zM289 643h1v2h-1zM780 643h1v1h-1zM784 644h1v1h-1zM288 645h1v2h-1zM783 645h1v1h-1zM918 614h1v1h-1zM919 613h1v1h-1z" fill="#1e90ff"/>
<rect x="6" y="1" width="1194" height="1" fill="#000"/>
<rect x="6" y="449" width="1194" height="1" fill="#000"/>
<rect x="6" y="1" width="1" height="449" fill="#000"/>
<rect x="1199" y="1" width="1" height="449" fill="#000"/>
<rect x="6" y="451" width="1194" height="1" fill="#000"/>
<rect x="6" y="563" width="1194" height="1" fill="#000"/>
<rect x="6" y="451" width="1" height="113" fill="#000"/>
<rect x="1199" y="451" width="1" height="113" fill="#000"/>
<rect x="6" y="565" width="1194" height="1" fill="#000"/>
<rect x="6" y="666" width="1194" height="1" fill="#000"/>
<rect x="6" y="565" width="1" height="102" fill="#000"/>
<rect x="1199" y="565" width="1" height="102" fill="#000"/>
<rect x="1200" y="17" width="2" height="1" fill="#000"/>
<rect x="1200" y="50" width="2" height="1" fill="#000"/>
<rect x="1200" y="83" width="2" height="1" fill="#000"/>
<rect x="1200" y="116" width="2" height="1" fill="#000"/>
<rect x="1200" y="149" width="2" height="1" fill="#000"/>
<rect x="1200" y="182" width="2" height="1" fill="#000"/>
<rect x="1200" y="215" width="2" height="1" fill="#000"/>
<rect x="1200" y="248" width="2" height="1" fill="#000"/>
<rect x="1200" y="281" width="2" height="1" fill="#000"/>
<rect x="1200" y="314" width="2" height="1" fill="#000"/>
<rect x="1200" y="347" width="2" height="1" fill="#000"/>
<rect x="1200" y="380" width="2" height="1" fill="#000"/>
<rect x="1200" y="413" width="2" height="1" fill="#000"/>
<rect x="1200" y="446" width="2" height="1" fill="#000"/>
<rect x="1202" y="352" width="34" height="11" fill="#000"/>
<rect x="1202" y="176" width="34" height="11" fill="#ff0000"/>
<rect x="1202" y="246" width="34" height="11" fill="#ff0000"/>
<rect x="1202" y="343" width="34" height="11" fill="#00d000"/>
<rect x="1202" y="427" width="34" height="11" fill="#4169e1"/>
<rect x="1200" y="453" width="2" height="1" fill="#000"/>
<rect x="1200" y="457" width="2" height="1" fill="#000"/>
<rect x="1200" y="563" width="1" height="1" fill="#000"/>
<rect x="1200" y="566" width="1" height="1" fill="#000"/>
<rect x="1200" y="665" width="1" height="1" fill="#000"/>
<rect x="7" y="667" width="1" height="3" fill="#000"/>
<rect x="71" y="667" width="1" height="3" fill="#000"/>
<rect x="135" y="667" width="1" height="3" fill="#000"/>
<rect x="199" y="667" width="1" height="3" fill="#000"/>
<rect x="263" y="667" width="1" height="3" fill="#000"/>
<rect x="327" y="667" width="1" height="3" fill="#000"/>
<rect x="391" y="667" width="1" height="3" fill="#000"/>
<rect x="455" y="667" width="1" height="3" fill="#000"/>
<rect x="519" y="667" width="1" height="3" fill="#000"/>
<rect x="583" y="667" width="1" height="3" fill="#000"/>
<rect x="647" y="667" width="1" height="3" fill="#000"/>
<rect x="711" y="667" width="1" height="3" fill="#000"/>
<rect x="775" y="667" width="1" height="3" fill="#000"/>
<rect x="839" y="667" width="1" height="3" fill="#000"/>
<rect x="903" y="667" width="1" height="3" fill="#000"/>
</g>
<g>
<text x="1204.6" y="21" fill="#000" stroke="#000" font-size="10" textLength="28" lengthAdjust="spacingAndGlyphs">4666.0</text>
<text x="1204.6" y="54" fill="#000" stroke="#000" font-size="10" textLength="28" lengthAdjust="spacingAndGlyphs">4594.0</text>
<text x="1204.6" y="87" fill="#000" stroke="#000" font-size="10" textLength="28" lengthAdjust="spacingAndGlyphs">4524.0</text>
<text x="1204.6" y="120" fill="#000" stroke="#000" font-size="10" textLength="28" lengthAdjust="spacingAndGlyphs">4454.0</text>
<text x="1204.6" y="153" fill="#000" stroke="#000" font-size="10" textLength="28" lengthAdjust="spacingAndGlyphs">4384.0</text>
<text x="1204.6" y="219" fill="#000" stroke="#000" font-size="10" textLength="28" lengthAdjust="spacingAndGlyphs">4244.0</text>
<text x="1204.6" y="252" fill="#000" stroke="#000" font-size="10" textLength="28" lengthAdjust="spacingAndGlyphs">4174.0</text>
<text x="1204.6" y="285" fill="#000" stroke="#000" font-size="10" textLength="28" lengthAdjust="spacingAndGlyphs">4104.0</text>
<text x="1204.6" y="318" fill="#000" stroke="#000" font-size="10" textLength="28" lengthAdjust="spacingAndGlyphs">4034.0</text>
<text x="1204.6" y="384" fill="#000" stroke="#000" font-size="10" textLength="28" lengthAdjust="spacingAndGlyphs">3894.0</text>
<text x="1204.6" y="417" fill="#000" stroke="#000" font-size="10" textLength="28" lengthAdjust="spacingAndGlyphs">3824.0</text>
<text x="1204.6" y="450" fill="#000" stroke="#000" font-size="10" textLength="28" lengthAdjust="spacingAndGlyphs">3754.0</text>
<text x="1204.6" y="361" fill="#fff" stroke="#fff" font-size="10" textLength="28" lengthAdjust="spacingAndGlyphs">3941.9</text>
<text x="1204.6" y="185" fill="#fff" stroke="#fff" font-size="10" textLength="28" lengthAdjust="spacingAndGlyphs">4315.0</text>
<text x="1204.6" y="255" fill="#fff" stroke="#fff" font-size="10" textLength="28" lengthAdjust="spacingAndGlyphs">4165.0</text>
<text x="1204.6" y="352" fill="#fff" stroke="#fff" font-size="10" textLength="28" lengthAdjust="spacingAndGlyphs">3960.0</text>
<text x="1204.6" y="436" fill="#fff" stroke="#fff" font-size="10" textLength="28" lengthAdjust="spacingAndGlyphs">3780.0</text>
<text x="1203" y="461" fill="#000" stroke="#000" font-size="10" textLength="18" lengthAdjust="spacingAndGlyphs">0.04</text>
<text x="1203" y="462" fill="#000" stroke="#000" font-size="10" textLength="18" lengthAdjust="spacingAndGlyphs">0.00</text>
<text x="1202.6" y="560" fill="#000" stroke="#000" font-size="10" textLength="31" lengthAdjust="spacingAndGlyphs">-140.44</text>
<text x="1203.6" y="576" fill="#000" stroke="#000" font-size="10" textLength="14" lengthAdjust="spacingAndGlyphs">100</text>
<text x="1202" y="600" fill="#000" stroke="#000" font-size="10" textLength="9.2" lengthAdjust="spacingAndGlyphs">70</text>
<text x="1202" y="640" fill="#000" stroke="#000" font-size="10" textLength="9.2" lengthAdjust="spacingAndGlyphs">30</text>
<text x="1203" y="663" fill="#000" stroke="#000" font-size="10" textLength="5" lengthAdjust="spacingAndGlyphs">0</text>
<text x="6.6" y="679" fill="#000" stroke="#000" font-size="10" textLength="50.4" lengthAdjust="spacingAndGlyphs">14 Feb 2022</text>
<text x="70.6" y="679" fill="#000" stroke="#000" font-size="10" textLength="53" lengthAdjust="spacingAndGlyphs">18 Feb 01:30</text>
<text x="134.6" y="679" fill="#000" stroke="#000" font-size="10" textLength="54" lengthAdjust="spacingAndGlyphs">24 Feb 01:30</text>
<text x="198.6" y="679" fill="#000" stroke="#000" font-size="10" textLength="49.2" lengthAdjust="spacingAndGlyphs">2 Mar 01:30</text>
<text x="262.6" y="679" fill="#000" stroke="#000" font-size="10" textLength="49.2" lengthAdjust="spacingAndGlyphs">8 Mar 01:30</text>
<text x="326.6" y="679" fill="#000" stroke="#000" font-size="10" textLength="54" lengthAdjust="spacingAndGlyphs">14 Mar 01:30</text>
<text x="390.6" y="679" fill="#000" stroke="#000" font-size="10" textLength="54" lengthAdjust="spacingAndGlyphs">18 Mar 01:30</text>
<text x="454.6" y="679" fill="#000" stroke="#000" font-size="10" textLength="54" lengthAdjust="spacingAndGlyphs">24 Mar 01:30</text>
<text x="518.6" y="679" fill="#000" stroke="#000" font-size="10" textLength="54.4" lengthAdjust="spacingAndGlyphs">30 Mar 01:30</text>
<text x="582.6" y="679" fill="#000" stroke="#000" font-size="10" textLength="48" lengthAdjust="spacingAndGlyphs">7 Apr 01:30</text>
<text x="646.6" y="679" fill="#000" stroke="#000" font-size="10" textLength="53" lengthAdjust="spacingAndGlyphs">13 Apr 01:30</text>
<text x="710.6" y="679" fill="#000" stroke="#000" font-size="10" textLength="53" lengthAdjust="spacingAndGlyphs">19 Apr 01:30</text>
<text x="774.6" y="679" fill="#000" stroke="#000" font-size="10" textLength="53" lengthAdjust="spacingAndGlyphs">25 Apr 01:30</text>
<text x="838.6" y="679" fill="#000" stroke="#000" font-size="10" textLength="53.5" lengthAdjust="spacingAndGlyphs">29 Apr 01:30</text>
<text x="902.6" y="679" fill="#000" stroke="#000" font-size="10" textLength="56.7" lengthAdjust="spacingAndGlyphs">10 May 01:30</text>
<text y="13" fill="#000" stroke="#000" font-size="10"><tspan x="22" textLength="65.5" lengthAdjust="spacingAndGlyphs">CHINA300-,H4</tspan> <tspan x="92.6" textLength="28" lengthAdjust="spacingAndGlyphs">3968.1</tspan> <tspan x="123.6" textLength="28" lengthAdjust="spacingAndGlyphs">3975.1</tspan> <tspan x="154.6" textLength="28" lengthAdjust="spacingAndGlyphs">3922.2</tspan> <tspan x="185.6" textLength="28" lengthAdjust="spacingAndGlyphs">3941.9</tspan></text>
<text y="464" fill="#000" stroke="#000" font-size="10"><tspan x="10.5" textLength="66" lengthAdjust="spacingAndGlyphs">MACD(12,26,9)</tspan> <tspan x="79.6" textLength="26" lengthAdjust="spacingAndGlyphs">-22.81</tspan> <tspan x="108.9" textLength="26" lengthAdjust="spacingAndGlyphs">-40.04</tspan></text>
<text y="578" fill="#000" stroke="#000" font-size="10"><tspan x="10.5" textLength="32.2" lengthAdjust="spacingAndGlyphs">RSI(14)</tspan> <tspan x="45.8" textLength="32.6" lengthAdjust="spacingAndGlyphs">48.2423</tspan></text>
</g>
</svg>
<div id="note"><span class="cj">多空转折点</span><span class="dg">3960</span></div>
</body></html>
